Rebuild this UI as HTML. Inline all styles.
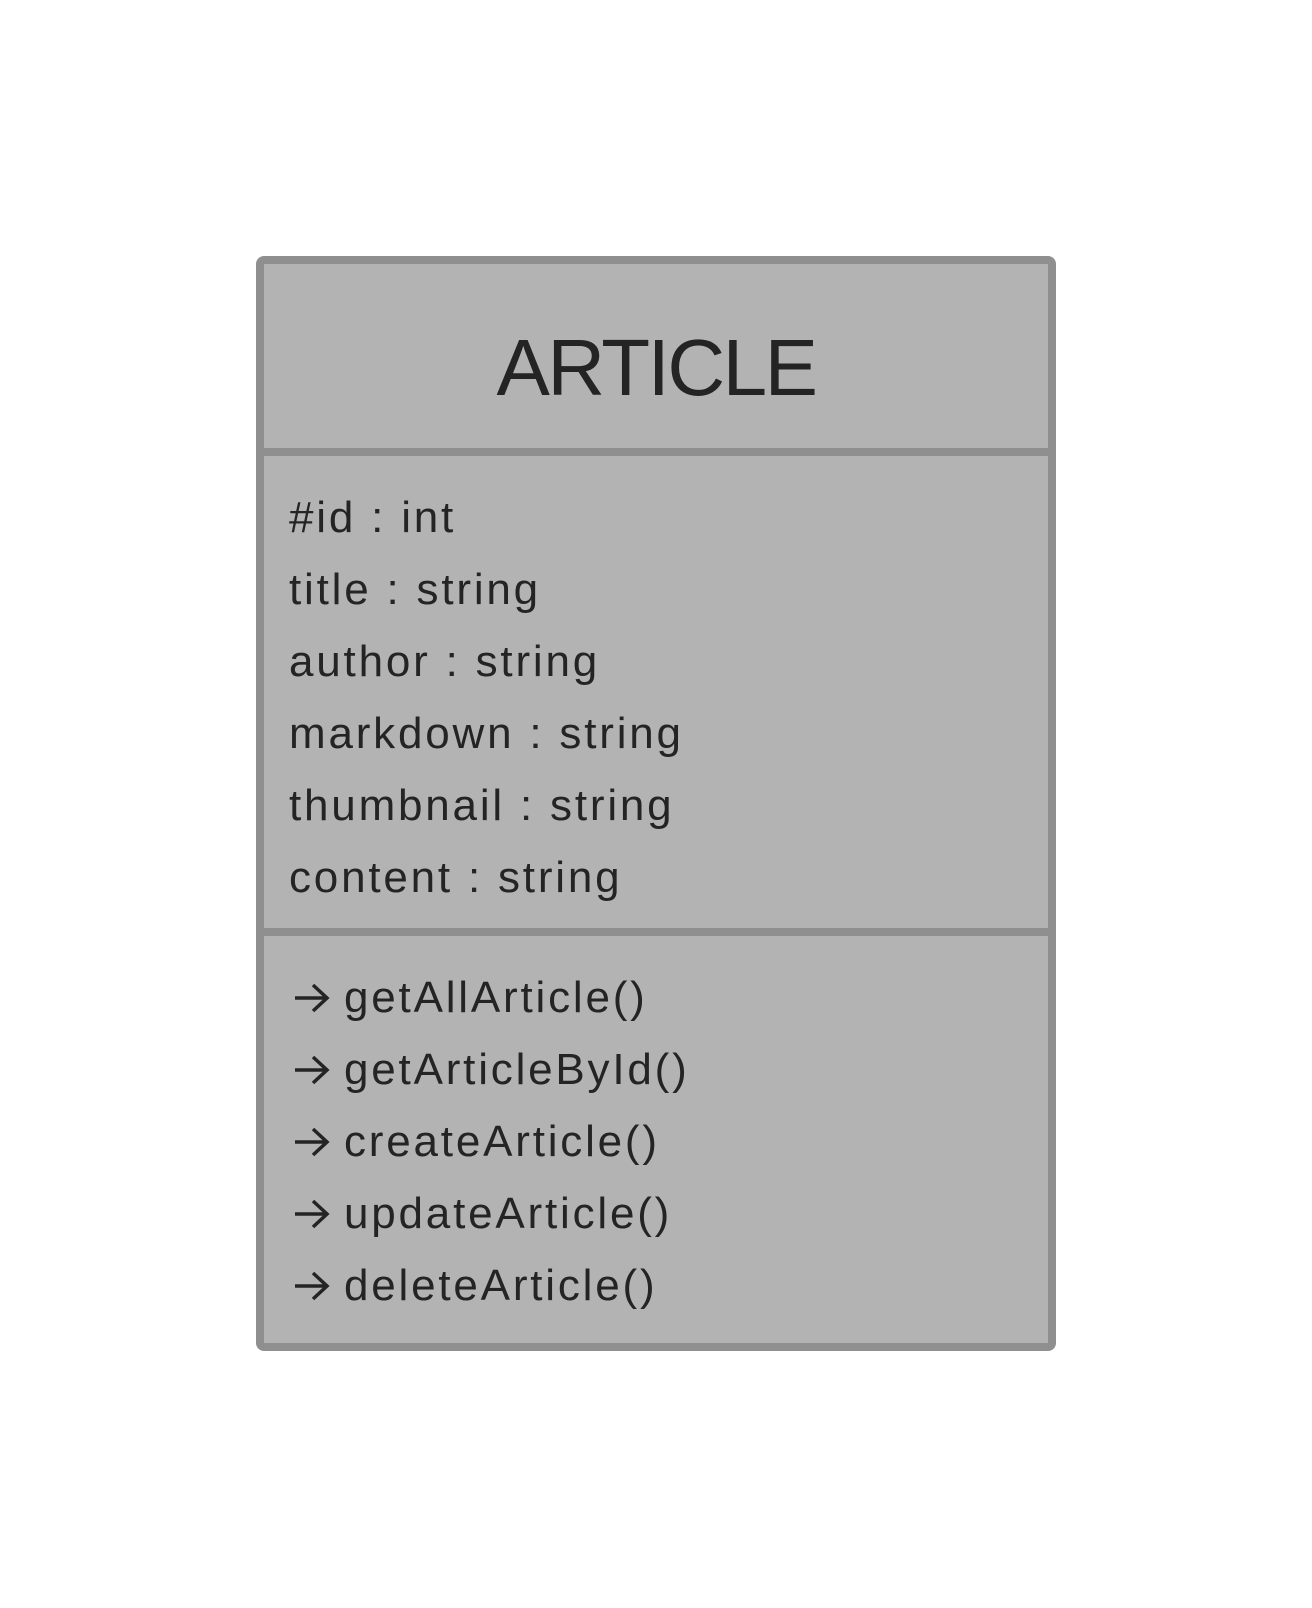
<!DOCTYPE html>
<html><head><meta charset="utf-8"><style>
html,body{margin:0;padding:0;background:#fff;}
body{width:1312px;height:1608px;position:relative;overflow:hidden;font-family:"Liberation Sans",sans-serif;color:#242424;}
.box{position:absolute;left:256px;top:256px;width:784px;height:1079px;background:#b3b3b3;border:8px solid #8f8f8f;border-radius:8px;}
.div{position:absolute;left:256px;width:800px;height:8px;background:#8f8f8f;}
.t{position:absolute;white-space:nowrap;font-size:44px;line-height:1;letter-spacing:2.8px;}
.title{position:absolute;left:256px;width:800px;text-align:center;font-size:80px;top:328px;line-height:1;letter-spacing:-2.5px;}
svg.a{position:absolute;left:293px;width:38px;height:34px;}
</style></head><body>
<div class="box"></div>
<div class="div" style="top:448px"></div>
<div class="div" style="top:928px"></div>
<div class="title">ARTICLE</div>
<div class="t" style="left:289px;top:496px">#id : int</div>
<div class="t" style="left:289px;top:568px">title : string</div>
<div class="t" style="left:289px;top:640px">author : string</div>
<div class="t" style="left:289px;top:712px">markdown : string</div>
<div class="t" style="left:289px;top:784px">thumbnail : string</div>
<div class="t" style="left:289px;top:856px">content : string</div>
<div class="t" style="left:344px;top:976px">getAllArticle()</div>
<div class="t" style="left:344px;top:1048px">getArticleById()</div>
<div class="t" style="left:344px;top:1120px">createArticle()</div>
<div class="t" style="left:344px;top:1192px">updateArticle()</div>
<div class="t" style="left:344px;top:1264px">deleteArticle()</div>
<svg class="a" style="top:981px" viewBox="0 0 38 34"><path d="M2 17H34M20 4L34 17L20 30" fill="none" stroke="#242424" stroke-width="3.5"/></svg>
<svg class="a" style="top:1053px" viewBox="0 0 38 34"><path d="M2 17H34M20 4L34 17L20 30" fill="none" stroke="#242424" stroke-width="3.5"/></svg>
<svg class="a" style="top:1125px" viewBox="0 0 38 34"><path d="M2 17H34M20 4L34 17L20 30" fill="none" stroke="#242424" stroke-width="3.5"/></svg>
<svg class="a" style="top:1197px" viewBox="0 0 38 34"><path d="M2 17H34M20 4L34 17L20 30" fill="none" stroke="#242424" stroke-width="3.5"/></svg>
<svg class="a" style="top:1269px" viewBox="0 0 38 34"><path d="M2 17H34M20 4L34 17L20 30" fill="none" stroke="#242424" stroke-width="3.5"/></svg>
</body></html>
